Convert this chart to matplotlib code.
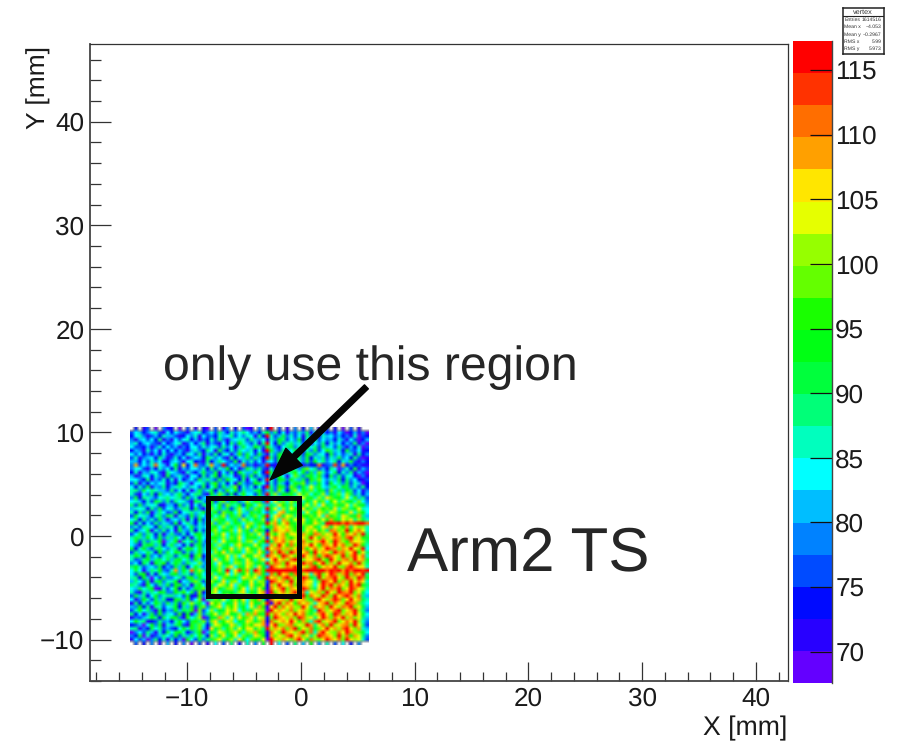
import numpy as np
import matplotlib
matplotlib.use("Agg")
import matplotlib.pyplot as plt
from matplotlib.colors import ListedColormap, BoundaryNorm
from matplotlib.patches import Rectangle
from matplotlib.ticker import MultipleLocator

plt.rcParams['font.family'] = ['Liberation Sans', 'DejaVu Sans']
plt.rcParams['text.hinting'] = 'no_hinting'

# hit map, top row first. one char per cell = colour band (base 20), '.' = empty
cell_rows = [
    ".2.13.0.41 2.0.3.1.20 .3.14.2.30 1.4.2j.3.1 .4.2.5.1.3 .2.0.3.1..",
    "3652467316 2643156724 6385274686 3527a48261 5374816352 4163025140",
    "2674135275 5312647163 4275683647 6182j73594 7361849275 6352417032",
    "4156362814 1636725142 7384156773 8546174a83 6492758364 5274163025",
    "5725643162 4671362581 5316284a75 3718j62947 8573916482 7462538140",
    "6332514726 3514266374 6738461596 5a83b74268 9475a68395 6384152703",
    "2541736162 6253157428 6194273865 7261j95384 6a8274936b 8572943612",
    "6362415273 1452763815 3827615b49 6394174a82 7593a84762 9463571824",
    "3714562851 3726146529 7463182659 4852j83a67 a684927583 7594628301",
    "5526374612 5641672318 2586439174 7361563982 5b7493a684 6827593142",
    "4g3647h651 6a3f26h437 g54j3645h3 4134j21232 1321322h13 4i3g142311",
    "4663152746 2815366472 8375a26149 7483172b65 a749c68352 8604729153",
    "2715476318 6531742594 4916382a75 5a62j94837 8b6a495c73 6927481530",
    "5137627419 3574166283 7a28561394 9374285a61 6c849a7b52 9483762041",
    "6642815372 7162463958 5394a76281 6825j73a94 a7593b8c64 7592846213",
    "3815264671 4297516683 8b47261a53 4a96173852 7b9c485a63 a684937502",
    "6273915482 5786476392 6a3958c274 7261j84b93 c94a7e8b65 8b6a947382",
    "7849687553 8362715947 9274b6a385 58a3594c72 9d6b8c7a94 c795a83614",
    "7316482956 4795268831 a5c83927b6 6394j8d5a9 b7e9c6a8d5 a8c6d94725",
    "4928753678 6783947256 7b94a6c283 c5a7285d94 8c6e9b7d8f c9a7e6b583",
    "6752739848 3867419852 b38c5a947d 7b94j6e8c7 d9f7b8e9c6 be8d9a7c64",
    "8394767215 5294716388 96b4c87a3b a6d8597fb8 c7a9e8d6f9 8cb9e7d9a5",
    "5767284936 7358829416 c7a5938d6b 5c97j9e6d8 eb8f9c7dac 9f7dc8ae76",
    "7284915863 4926785793 8b4c9a6d75 b8a6496fg8 a9d7e8bfc8 ed9b8f7ca6",
    "3967527849 8175394862 a69d5b8c47 9c7bj7eg9e d8fbac9e7g ac8fd9bg85",
    "6828473951 5648172936 7c9a68b5d9 6a8d39f7gd 9ecf8bd9ea gb9ecf8d97",
    "9172638475 3916852748 c5b8d7a96c d8b9jdg9eh b9ed9afc8j jijhjhijjh",
    "4738762958 7283694756 9b6d8a7c5e a7c6b9gedf cag9dfb8eg 9fdbg8ecd7",
    "8256917483 6195482738 bd7a9c6e8b 5da92chfeg dbg9ecfad8 hgcdjbfhe7",
    "3694872815 8437269a58 7c9e6b8d7a c8e7jdaegb feagdbhgcf djfbgehdj8",
    "7985a63948 5962817a64 ba8d7c9f6b 9b7d3ehfgc adgfcjebgd fhgchjdfb9",
    "6938487a05 7a08694a51 8c6e9bad7c d6caj9gfhd gebhdcfgjf cjgdbhefd8",
    "6418a95827 9562718a47 b7d8a6cfb9 8ea75gdjfb hcdgfjebhg ejfhcdjgb7",
    "927a538964 7817a96b58 9c6baf8d7e b9d7jeghdg cfjgbehdfj hgcgfjedj6",
    "3856972a49 6a93847b56 7daf8c9b6d c8fb4hdjgc jgdfhbjegf cjghdfjbf8",
    "7a82946378 8379a19c25 c8b9e7d6fa 9ed7jgfcjh ecgjfdhbgj hfdjcgjeh7",
    "7348a58969 59a684b738 9f7bd6ca8e b7cf6fjegd hjgcfehjdb jfcghdjfg9",
    "462971a8b3 7a84976c53 b6e9a7dc8f d9b8jdhgcj fedjghbfjc gdjfehcjd8",
    "8a73564925 395a26b748 a8d7cf6b9e c7fa5jgedh gjcfdhjbeg fjdchjgef7",
    "6961587a43 7g5a7h9d83 9ad8j7eibg 8jgbjjjjjj jjjijjjjjh jijgjhjjij",
    "639a172865 9a58738b64 c7b9f6d8ae 9dga5hcjfg bhjdf7gjcf jhdgjchfj8",
    "782a506394 46839b5a78 8e6cb9a7fd ce7bjfgdhj gcfjhb8jdg hjfcjgdjh9",
    "5863918a47 7a1659c83a da8f7cd6b9 e8dc3jhfgc jdghfe7cjh fjcgdjehf7",
    "8741a63859 3a94718b62 b7ed9f6ca8 f9bd2gdjef hcjgfd6ejg jdhfcjgjb8",
    "65968a0173 6b2735a9c4 9fa8cd7be6 d8fa1hegjc gfdjhc8fjd hgjcfjhed7",
    "7318586a94 4a8b693c25 ce6b9a8df7 b9eg0jcfhd gjeh7fdgcj fdjhgjcf96",
    "395826a478 8563a21b47 a7d8fbc69e d7fc1gjdef hcgjbhfdjg cjfhjgdh85",
    "614a739582 2a95b36c08 8c9e7bdaf6 cbg82hefgc jdfgc9hjfd gjhcfjeg97",
    "182736a849 593b7d8a60 ebd6a9f8c7 fa9dj1gjdh fbhegd7fgj chfdjhgc86",
    "54a2818736 7a285b39c4 9cf7dbe8a6 e8gb1fjche gdcjf8hegc jfdhgjcf95",
    "37a6841925 4a598b0c36 d7a9ecf6b8 9fdc0jegfd hcfgdb7jgd fhjcegjd84",
    "8261593a47 63b2a15c48 be8cfa9d7g cgb9jdhfcg ejfhc9dgjf cjhdgfje96",
    "14357a8296 9a41b68d03 a9gd7e8fbc f8ed1cjgfd gcjhdf8ejg chfjdgcf85",
    "6a78123845 27a639b8c4 cf8bed6a9f d9cg2hdfge jfbgc7hjdf gjcehfjd74",
    "23506a4917 58a31b8c72 8eda9fc7bd bfeg0fjcdg hcedjg8fhc jdfghcje83",
    "7814296835 326a7b8c51 f9c7bd8eaf e9d8jdgfhc gjbfdh9cfj egdhjfcg75",
    "0463851729 69a7248b05 a8ed9cfb7c dgb91hecjg fdgjch7gjf dchejgdc96",
    "4290713586 4a38596b72 d7bf8ae6c9 8fda2gcfdh jegcf8djhg fcjdhbge84",
    "1635048271 7250a63948 9ce8bd7fa6 cb9e0jfdge cgjf9hdcfj gehcjfde73",
    ".3.2.4.1.5 .2.4.0.3.1 .6.3.8.2.7 .4.9.j.6.3 .8.5.a.4.7 .3.6.2.4..",
]

band_colors = ["#6400ff", "#2800ff", "#000aff", "#004bff", "#0082ff", "#00beff", "#00ffff",
               "#00ffbe", "#00ff78", "#00ff3c", "#00ff14", "#19ff00", "#64ff00", "#96ff00",
               "#e6ff00", "#ffe600", "#ffa000", "#ff6e00", "#ff3200", "#ff0000"]
z_low = 67.58
z_high = 117.25
z_ticks = [70, 75, 80, 85, 90, 95, 100, 105, 110, 115]

x_range = (-15, 6)
y_range = (10.5, -10.5)

stats_title = "vertex"
stats_names = ["Entries", "Mean x", "Mean y", "RMS x", "RMS y"]
stats_values = ["1614516", "\u22124.053", "\u22120.2967", "5.99", "5.973"]

# region box and arrow, in mm
box_x = (-8.22, -0.18)
box_y = (-5.84, 3.62)
arrow_tip = (-2.72, 5.41)
arrow_tail = (5.75, 14.4)

edges = np.linspace(z_low, z_high, len(band_colors) + 1)
band_width = edges[1] - edges[0]
rows = [r.replace(" ", "") for r in cell_rows]
z = np.array([[np.nan if c == "." else edges[int(c, 20)] + band_width / 2 for c in r] for r in rows])

cmap = ListedColormap(band_colors)
norm = BoundaryNorm(edges, cmap.N)

fig = plt.figure(figsize=(9, 7.41), dpi=100)
W, H = 900.0, 741.0
ax = fig.add_axes([90 / W, 1 - 681 / H, 698 / W, 637 / H])

# the reference is a soft screenshot, so blend neighbouring cells a bit
ax.imshow(z, cmap=cmap, norm=norm, aspect='auto', origin='upper',
          extent=[x_range[0], x_range[1], y_range[1], y_range[0]],
          interpolation='bilinear', interpolation_stage='rgba')

ax.set_xlim(-18.56, 42.83)
ax.set_ylim(-14.0, 47.5)

ax.xaxis.set_major_locator(MultipleLocator(10))
ax.xaxis.set_minor_locator(MultipleLocator(2))
ax.yaxis.set_major_locator(MultipleLocator(10))
ax.yaxis.set_minor_locator(MultipleLocator(2))
ax.tick_params(which='major', direction='in', width=0.9, color='#333333',
               labelsize=18.8, labelcolor='#1a1a1a', pad=4)
ax.tick_params(axis='x', which='major', length=14, pad=4)
ax.tick_params(axis='y', which='major', length=15)
ax.tick_params(axis='x', which='minor', direction='in', length=6.8, width=0.9, color='#333333')
ax.tick_params(axis='y', which='minor', direction='in', length=8, width=0.9, color='#333333')

for side in ['top', 'right']:
    ax.spines[side].set_linewidth(0.9)
    ax.spines[side].set_color('#333333')
for side in ['left', 'bottom']:
    ax.spines[side].set_linewidth(1.3)
    ax.spines[side].set_color('#444444')

ax.add_patch(Rectangle((box_x[0], box_y[0]), box_x[1] - box_x[0], box_y[1] - box_y[0],
                       fill=False, edgecolor='#050505', linewidth=3.6, zorder=5))
ax.annotate("", xy=arrow_tip, xytext=arrow_tail, zorder=6,
            arrowprops=dict(facecolor='#050505', edgecolor='#050505', width=4, headwidth=17,
                            headlength=24, shrink=0))

fig.text(163 / W, 1 - 380 / H, "only use this region", fontsize=34.7, color='#262626', va='baseline')
fig.text(407 / W, 1 - 570 / H, "Arm2 TS", fontsize=44.5, color='#262626', va='baseline')
fig.text(787 / W, 1 - 735 / H, "X [mm]", fontsize=19.2, color='#1a1a1a', ha='right', va='baseline')
fig.text(51 / W, 1 - 46 / H, "Y [mm]", fontsize=19, color='#1a1a1a', rotation=90, ha='right', va='top')

# colour scale
cax = fig.add_axes([792.5 / W, 1 - 683 / H, 40 / W, 642 / H])
sm = plt.cm.ScalarMappable(cmap=cmap, norm=norm)
cb = fig.colorbar(sm, cax=cax, spacing='proportional', drawedges=False)
cb.outline.set_visible(False)
cb.set_ticks(z_ticks)
cb.ax.minorticks_off()
cax.yaxis.set_ticks_position('right')
cax.tick_params(direction='in', length=15.5, width=0.9, color='#111111',
                labelsize=18.8, labelcolor='#1a1a1a', pad=2)
cax.plot([1, 1], [0, 1], transform=cax.transAxes, color='#444444', lw=1, clip_on=False)

# stats box
bx = fig.add_axes([842.5 / W, 1 - 54 / H, 41.5 / W, 46 / H])
bx.set_xticks([])
bx.set_yticks([])
for s in bx.spines.values():
    s.set_linewidth(1.1)
    s.set_color('#222222')
bx.set_xlim(0, 1)
bx.set_ylim(0, 1)
bx.axhline(0.835, color='#222222', lw=0.8)
bx.text(0.5, 0.91, stats_title, fontsize=5.2, ha='center', va='center', color='#333333')
for i, (name, val) in enumerate(zip(stats_names, stats_values)):
    yy = 0.74 - i * 0.155
    bx.text(0.04, yy, name, fontsize=3.7, ha='left', va='center', color='#333333')
    bx.text(0.94, yy, val, fontsize=3.7, ha='right', va='center', color='#333333')

fig.savefig("out.png", dpi=100)
